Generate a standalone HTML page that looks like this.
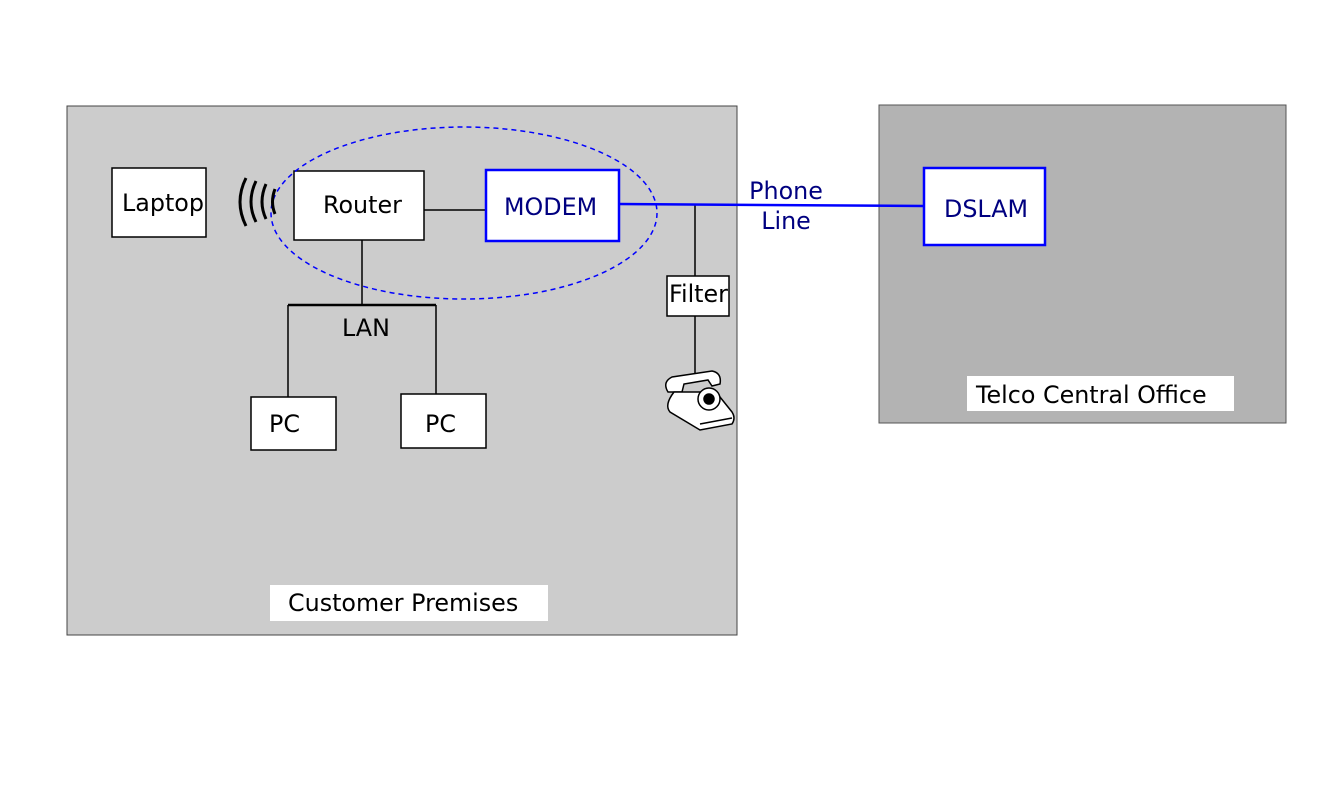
<!DOCTYPE html>
<html><head><style>body{margin:0;background:#fff}svg{display:block}text{font-family:"DejaVu Sans","Liberation Sans",sans-serif;font-size:23.8px}</style></head><body>
<svg width="1344" height="786" viewBox="0 0 1344 786" xmlns="http://www.w3.org/2000/svg">
<rect x="67" y="106" width="670" height="529" fill="#cccccc" stroke="#444" stroke-width="1"/>
<rect x="879" y="105" width="407" height="318" fill="#b3b3b3" stroke="#555" stroke-width="1"/>
<rect x="270" y="585" width="278" height="36" fill="#fff"/>
<text x="288" y="611">Customer Premises</text>
<rect x="967" y="376" width="267" height="35" fill="#fff"/>
<text x="976" y="403">Telco Central Office</text>
<line x1="362" y1="240" x2="362" y2="305" stroke="#000" stroke-width="1.5"/>
<line x1="288" y1="305" x2="436" y2="305" stroke="#000" stroke-width="2.5"/>
<line x1="288" y1="305" x2="288" y2="397" stroke="#000" stroke-width="1.5"/>
<line x1="436" y1="305" x2="436" y2="394" stroke="#000" stroke-width="1.5"/>
<line x1="424" y1="210" x2="486" y2="210" stroke="#000" stroke-width="1.5"/>
<line x1="695" y1="204" x2="695" y2="276" stroke="#000" stroke-width="1.5"/>
<line x1="695" y1="316" x2="695" y2="375" stroke="#000" stroke-width="1.5"/>
<line x1="619" y1="204" x2="924" y2="206" stroke="#0000ff" stroke-width="2.5"/>
<text x="342" y="336">LAN</text>
<text x="786" y="199" fill="#000080" text-anchor="middle">Phone</text>
<text x="786" y="229" fill="#000080" text-anchor="middle">Line</text>
<rect x="112" y="168" width="94" height="69" fill="#fff" stroke="#000" stroke-width="1.5"/>
<text x="122" y="211">Laptop</text>
<rect x="294" y="171" width="130" height="69" fill="#fff" stroke="#000" stroke-width="1.5"/>
<text x="323" y="213">Router</text>
<rect x="486" y="170" width="133" height="71" fill="#fff" stroke="#0000ff" stroke-width="2.5"/>
<text x="504" y="215" fill="#000080">MODEM</text>
<rect x="924" y="168" width="121" height="77" fill="#fff" stroke="#0000ff" stroke-width="2.5"/>
<text x="944" y="217" fill="#000080">DSLAM</text>
<rect x="667" y="276" width="62" height="40" fill="#fff" stroke="#000" stroke-width="1.5"/>
<text x="669" y="302">Filter</text>
<rect x="251" y="397" width="85" height="53" fill="#fff" stroke="#000" stroke-width="1.5"/>
<text x="269" y="432">PC</text>
<rect x="401" y="394" width="85" height="54" fill="#fff" stroke="#000" stroke-width="1.5"/>
<text x="425" y="432">PC</text>
<ellipse cx="464" cy="213" rx="193" ry="86" fill="none" stroke="#0000ff" stroke-width="1.5" stroke-dasharray="5,4"/>
<g fill="none" stroke="#000" stroke-width="3">
<path d="M246 178 Q234 202 246 226"/>
<path d="M256 181 Q246 202 256 222"/>
<path d="M266 184 Q258 202 266 219"/>
<path d="M275 189 Q270 202 275 214"/>
</g>
<g stroke="#000" stroke-width="1.5" fill="#fff">
<path d="M668 392 Q662 382 672 377 L712 371 Q722 373 720 384 L712 386 L708 380 L684 384 L682 392 Z"/>
<path d="M674 392 Q664 405 670 412 Q690 424 700 430 L732 424 Q736 418 732 412 L716 392 Z"/>
<circle cx="709" cy="399" r="11"/>
<circle cx="709" cy="399" r="5" fill="#000"/>
<path d="M700 424 L732 418"/>
</g>
</svg>
</body></html>
